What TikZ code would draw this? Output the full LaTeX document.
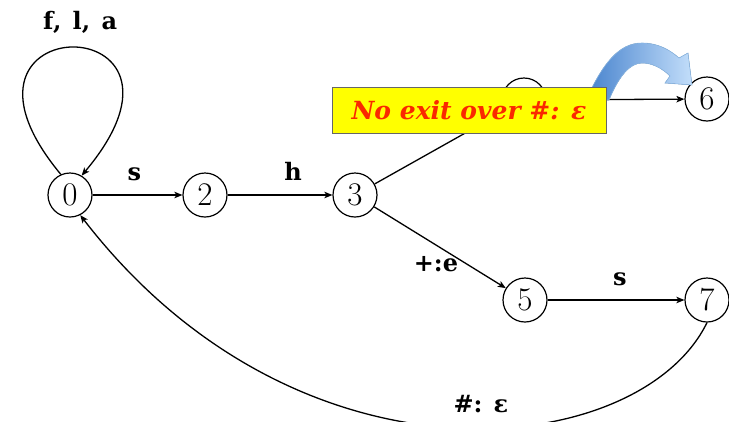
\documentclass[tikz,border=0pt]{standalone}
\usepackage{fontspec}
\newfontfamily\lblfont{DejaVu Serif}
\usetikzlibrary{arrows.meta}
\definecolor{boxred}{RGB}{250,40,0}
\definecolor{boxyellow}{RGB}{255,255,0}
\definecolor{bluedark}{RGB}{70,130,205}
\definecolor{bluelight}{RGB}{195,222,250}
\definecolor{blueedge}{RGB}{140,185,230}
\begin{document}
\begin{tikzpicture}[x=1pt,y=-1pt,
  st/.style={circle, draw, line width=1.2pt, minimum size=44pt, inner sep=0pt,
    font=\fontsize{33}{33}\selectfont},
  edge/.style={line width=1.3pt, -{Stealth[length=8pt,width=6.5pt,inset=2pt]}},
  lbl/.style={font=\lblfont\bfseries\fontsize{24}{24}\selectfont, inner sep=0pt, anchor=base},
  note/.style={draw=black!60, line width=0.8pt, fill=boxyellow, minimum width=274pt,
    minimum height=46pt, inner sep=0pt, text=boxred,
    font=\lblfont\bfseries\itshape\fontsize{25}{25}\selectfont}
]
\useasboundingbox (0,0) rectangle (729,421);

\node[st] (n0) at (70,195) {0};
\node[st] (n2) at (205,195) {2};
\node[st] (n3) at (355,195) {3};
\node[st] (n4) at (524,100) {};
\node[st] (n6) at (707,99) {6};
\node[st] (n5) at (525,300) {5};
\node[st] (n7) at (707,300) {7};

\draw[edge] (n0.114) .. controls (-80,5) and (225,5) .. node[lbl, pos=0.5, xshift=8pt, yshift=18pt] {f,\hspace{3pt} l,\hspace{3pt} a} (n0.59);
\draw[edge] (n0) -- node[lbl, pos=0.5, xshift=-3pt, yshift=15pt] {s} (n2);
\draw[edge] (n2) -- node[lbl, pos=0.5, xshift=13pt, yshift=15pt] {h} (n3);
\draw[edge] (n3) -- (n4);
\draw[edge] (n4) -- (n6);
\draw[edge] (n3) -- node[lbl, pos=0.5, xshift=-4pt, yshift=-24pt] {+:e} (n5);
\draw[edge] (n5) -- node[lbl, pos=0.5, xshift=4pt, yshift=15pt] {s} (n7);
\draw[edge] (n7.south) .. controls (640,460) and (300,500) .. node[lbl, pos=0.5, xshift=30pt, yshift=15pt] {\#: ε} (n0.-63);

% blue curved arrow
\fill[left color=bluedark, right color=bluelight, draw=blueedge, line width=0.6pt]
  (586,100) .. controls (603,63) and (619,43) .. (642,43)
  .. controls (658,43) and (670,50) .. (679,58)
  -- (688,53) -- (692,85) -- (665,83) -- (670,76)
  .. controls (662,68) and (652,63) .. (642,63)
  .. controls (630,63) and (619,76) .. (609,100) -- cycle;

\node[note] (msg) at (469,110) {No exit over \#: ε};
\end{tikzpicture}
\end{document}
